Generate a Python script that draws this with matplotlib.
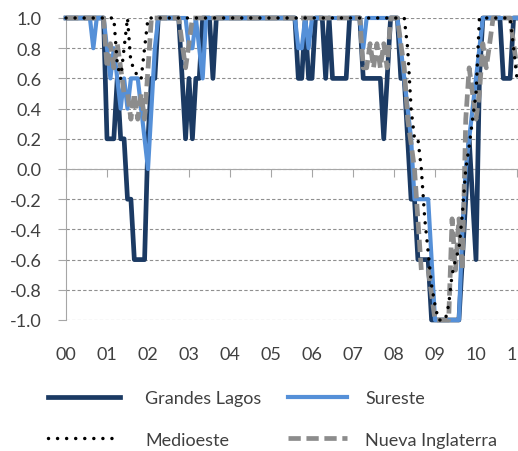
import numpy as np
import matplotlib
matplotlib.use("Agg")
import matplotlib.pyplot as plt

# Year tick labels (2000 .. 2011)
year_labels = ["00", "01", "02", "03", "04", "05", "06", "07", "08", "09", "10", "11"]
y_ticks = [-1.0, -0.8, -0.6, -0.4, -0.2, 0.0, 0.2, 0.4, 0.6, 0.8, 1.0]

# Monthly values, Jan 2000 .. Jan 2011 (one row per year)
grandes_lagos = [
    1, 1, 1, 1, 1, 1, 1, 1, 1, 1, 1, 1,                               # 2000
    0.2, 0.2, 0.2, 0.6, 0.2, 0.2, -0.2, -0.2, -0.6, -0.6, -0.6, -0.6,  # 2001
    0.2, 0.6, 0.6, 1, 1, 1, 1, 1, 1, 1, 0.6, 0.2,                     # 2002
    0.6, 0.2, 0.6, 0.6, 1, 1, 1, 0.6, 1, 1, 1, 1,                     # 2003
    1, 1, 1, 1, 1, 1, 1, 1, 1, 1, 1, 1,                               # 2004
    1, 1, 1, 1, 1, 1, 1, 1, 0.6, 0.6, 1, 0.6,                         # 2005
    0.6, 1, 1, 1, 0.6, 1, 0.6, 0.6, 0.6, 0.6, 0.6, 1,                 # 2006
    1, 1, 1, 0.6, 0.6, 0.6, 0.6, 0.6, 0.6, 0.2, 0.6, 1,               # 2007
    1, 1, 0.6, 0.6, 0.2, -0.2, -0.2, -0.6, -0.6, -0.6, -0.6, -1,      # 2008
    -1, -1, -1, -1, -1, -1, -1, -1, -0.6, -0.2, 0.2, -0.2,            # 2009
    -0.6, 0.6, 1, 1, 1, 1, 1, 1, 0.6, 0.6, 0.6, 1,                    # 2010
    1,                                                                # 2011
]
sureste = [
    1, 1, 1, 1, 1, 1, 1, 1, 0.8, 1, 1, 1,
    0.8, 0.6, 0.8, 0.6, 0.4, 0.6, 0.4, 0.6, 0.6, 0.6, 0.4, 0.2,
    0.0, 0.4, 0.8, 1, 1, 1, 1, 1, 1, 1, 1, 1,
    0.8, 0.8, 1, 0.8, 0.6, 1, 1, 1, 1, 1, 1, 1,
    1, 1, 1, 1, 1, 1, 1, 1, 1, 1, 1, 1,
    1, 1, 1, 1, 1, 1, 1, 1, 0.8, 0.8, 1, 0.8,
    1, 1, 1, 1, 1, 1, 1, 1, 1, 1, 1, 1,
    1, 1, 1, 0.8, 1, 1, 1, 1, 1, 1, 1, 1,
    1, 1, 0.8, 0.6, 0.4, 0.2, -0.2, -0.2, -0.2, -0.2, -0.2, -0.6,
    -1, -1, -1, -1, -1, -1, -1, -1, -0.4, 0.0, 0.2, 0.4,
    0.6, 0.8, 1, 1, 1, 1, 1, 1, 1, 1, 1, 1,
    1,
]
medioeste = [
    1, 1, 1, 1, 1, 1, 1, 1, 1, 1, 1, 1,
    1, 1, 1, 0.7, 0.6, 0.8, 1.0, 0.7, 0.67, 0.6, 0.6, 0.8,
    1, 1, 1, 1, 1, 1, 1, 1, 1, 1, 1, 1,
    1, 1, 1, 1, 1, 1, 1, 1, 1, 1, 1, 1,
    1, 1, 1, 1, 1, 1, 1, 1, 1, 1, 1, 1,
    1, 1, 1, 1, 1, 1, 1, 1, 1, 1, 1, 1,
    1, 1, 1, 1, 1, 1, 1, 1, 1, 1, 1, 1,
    1, 1, 1, 1, 1, 1, 1, 1, 1, 1, 1, 1,
    1, 1, 1, 1, 0.8, 0.4, 0.2, 0.2, 0.0, -0.33, -0.55, -0.77,
    -0.9, -1, -1, -1, -0.9, -0.7, -0.6, -0.53, -0.3, 0.0, 0.15, 0.33,
    0.5, 1, 1, 1, 1, 1, 1, 1, 1, 1, 1, 0.8,
    0.6,
]
nueva_inglaterra = [
    1, 1, 1, 1, 1, 1, 1, 1, 1, 1, 1, 1,
    0.67, 0.83, 0.67, 0.83, 0.67, 0.5, 0.5, 0.33, 0.5, 0.33, 0.5, 0.33,
    0.67, 1, 1, 1, 1, 1, 1, 1, 1, 1, 0.83, 0.67,
    0.83, 1, 1, 1, 1, 1, 1, 1, 1, 1, 1, 1,
    1, 1, 1, 1, 1, 1, 1, 1, 1, 1, 1, 1,
    1, 1, 1, 1, 1, 1, 1, 1, 1, 1, 1, 1,
    1, 1, 1, 1, 1, 1, 1, 1, 1, 1, 1, 1,
    1, 1, 1, 0.67, 0.67, 0.83, 0.67, 0.83, 0.67, 0.83, 0.67, 1,
    1, 1, 0.83, 0.67, 0.33, 0.17, 0.0, -0.33, -0.67, -0.67, -0.67, -0.83,
    -1, -1, -1, -1, -1, -0.33, -0.67, -0.33, -0.67, 0.33, 0.67, 0.5,
    0.33, 0.5, 0.83, 0.67, 0.83, 1, 1, 1, 1, 1, 1, 0.83,
    0.67,
]

series_names = ["Grandes Lagos", "Sureste", "Medioeste", "Nueva Inglaterra"]

FONT = ["Lato", "DejaVu Sans"]
TXT = "#404040"
AXC = "#a6a6a6"
FS = 13

fig = plt.figure(figsize=(5.18, 4.52), dpi=100)
ax = fig.add_axes([66 / 518, 131 / 452, 459.2 / 518, 302 / 452])
ax.set_xlim(0, 11.2)
ax.set_ylim(-1, 1)

t = np.arange(len(grandes_lagos)) / 12.0

l_gl, = ax.plot(t, grandes_lagos, color="#1b3a63", lw=3.4, solid_joinstyle="round",
                clip_on=False, zorder=3, label=series_names[0])
l_se, = ax.plot(t, sureste, color="#5590d8", lw=3.0, solid_joinstyle="round",
                clip_on=False, zorder=4, label=series_names[1])
l_ni, = ax.plot(t, nueva_inglaterra, color="#8c8c8c", lw=3.4, linestyle=(0, (2.6, 1.2)),
                clip_on=False, zorder=5, label=series_names[3])
l_mw, = ax.plot(t, medioeste, color="black", lw=2.5, linestyle=(0, (0.01, 2.6)),
                dash_capstyle="round", clip_on=False, zorder=6, label=series_names[2])

# grid and axes
ax.set_yticks(y_ticks)
ax.set_yticklabels([f"{round(v, 1):.1f}" for v in y_ticks], fontsize=FS,
                   color=TXT, family=FONT)
ax.yaxis.grid(True, linestyle=(0, (3, 2)), color="#8f8f8f", lw=0.8, zorder=0)
ax.set_axisbelow(True)
for s in ("top", "right"):
    ax.spines[s].set_visible(False)
ax.spines["left"].set_color(AXC)
ax.spines["bottom"].set_color(AXC)
ax.spines["bottom"].set_position(("data", 0))
ax.set_xticks(range(len(year_labels)))
ax.tick_params(axis="x", direction="out", length=5.5, color=AXC, labelbottom=False)
ax.tick_params(axis="y", direction="out", length=5.8, color=AXC, pad=11.5)

for i, lab in enumerate(year_labels):
    ax.text(i, -0.1126, lab, transform=ax.get_xaxis_transform(), ha="center",
            va="center", fontsize=FS, color=TXT, family=FONT)

common = dict(loc="upper left", ncol=1, frameon=False, labelspacing=1.42,
              borderpad=0, borderaxespad=0, labelcolor=TXT,
              prop={"family": FONT, "size": FS})
leg1 = fig.legend([l_gl, l_mw], [series_names[0], series_names[2]],
                  bbox_to_anchor=(48 / 518, 1 - 391 / 452),
                  handlelength=3.99, handletextpad=1.38, **common)
leg2 = fig.legend([l_se, l_ni], [series_names[1], series_names[3]],
                  bbox_to_anchor=(288 / 518, 1 - 391 / 452),
                  handlelength=3.27, handletextpad=1.0, **common)

fig.savefig("out.png", dpi=100)
